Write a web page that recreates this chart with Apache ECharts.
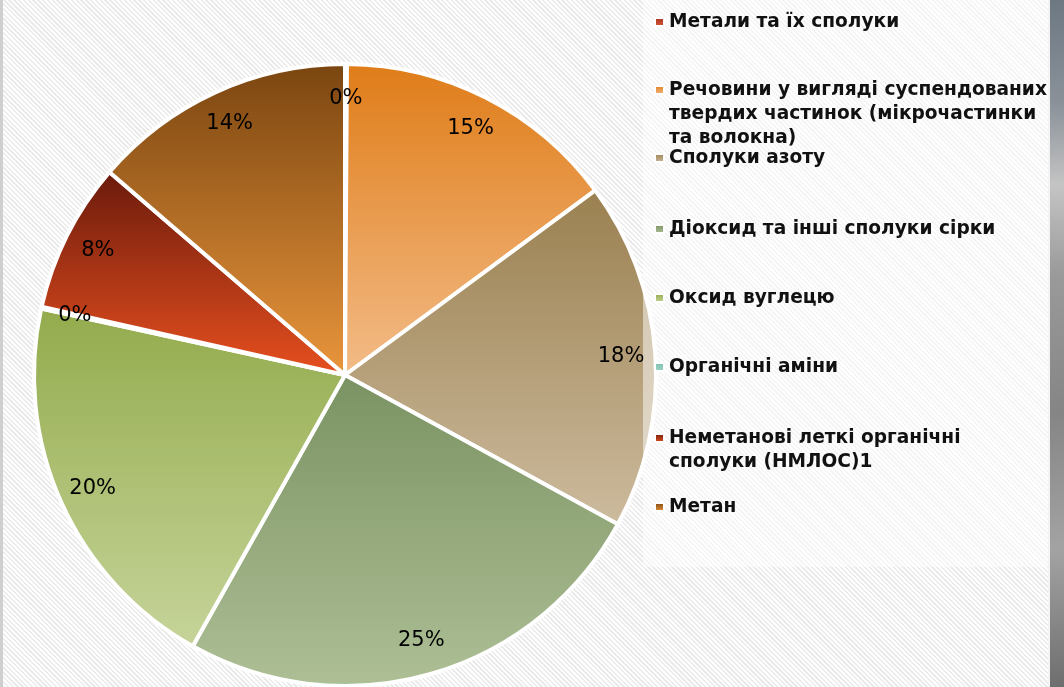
<!DOCTYPE html>
<html><head><meta charset="utf-8">
<script src="https://cdn.jsdelivr.net/npm/echarts@6/dist/echarts.min.js"></script>
<style>
html,body{margin:0;padding:0;width:1064px;height:687px;overflow:hidden;}
body{background: repeating-linear-gradient(45deg, #ffffff 0px, #ffffff 1.7px, #ebebeb 1.7px, #ebebeb 3.4px);}
#chart{width:1064px;height:687px;}
</style></head><body><div id="chart"></div>
<script>
// ---- data ----
const categories = [
  'Метали та їх сполуки',
  'Речовини у вигляді суспендованих твердих частинок (мікрочастинки та волокна)',
  'Сполуки азоту',
  'Діоксид та інші сполуки сірки',
  'Оксид вуглецю',
  'Органічні аміни',
  'Неметанові леткі органічні сполуки (НМЛОС)1',
  'Метан'
];
const values = [0.1, 14.8, 18.1, 25.2, 20.3, 0.1, 7.8, 13.7];
const legendLines = [
  ['Метали та їх сполуки'],
  ['Речовини у вигляді суспендованих', 'твердих частинок (мікрочастинки', 'та волокна)'],
  ['Сполуки азоту'],
  ['Діоксид та інші сполуки сірки'],
  ['Оксид вуглецю'],
  ['Органічні аміни'],
  ['Неметанові леткі органічні', 'сполуки (НМЛОС)1'],
  ['Метан']
];
const colorTop =    ['#A8321E', '#DF7C18', '#9A8050', '#7A9262', '#93AB4C', '#7DBFAE', '#6A1A0C', '#7A4510'];
const colorBottom = ['#D55A3A', '#F3BC88', '#CDBB9E', '#AEBF96', '#C6D49A', '#A0D4C6', '#E8501F', '#EA963C'];

// ---- layout ----
const CX = 345, CY = 375, R = 311;
const LEGEND_Y = [22, 90, 158, 229, 298, 367, 438, 507];
const LINE_H = 24;
const FONT = "'DejaVu Sans', sans-serif";

function grad(i) {
  return new echarts.graphic.LinearGradient(0, 0, 0, 1, [
    { offset: 0, color: colorTop[i] },
    { offset: 1, color: colorBottom[i] }
  ]);
}

const pieData = categories.map((n, i) => ({ name: n, value: values[i], itemStyle: { color: grad(i) } }));
const labelData = categories.map((n, i) => ({ name: n, value: values[i] }));

const legends = categories.map((n, i) => {
  const lines = legendLines[i];
  const pad = new Array(lines.length - 1).fill('');
  const text = pad.concat(lines).join('\n');
  const total = 2 * lines.length - 1;
  return {
    show: true,
    orient: 'vertical',
    left: 654,
    top: LEGEND_Y[i] - total * LINE_H / 2,
    padding: 0,
    itemGap: 0,
    icon: 'rect',
    itemWidth: 9,
    itemHeight: 8,
    selectedMode: false,
    data: [n],
    formatter: () => text,
    textStyle: { fontFamily: FONT, fontSize: 18.6, fontWeight: 'bold', color: '#111', lineHeight: LINE_H },
    z: 6
  };
});

const chart = echarts.init(document.getElementById('chart'), null, { renderer: 'canvas' });
chart.setOption({
  backgroundColor: 'transparent',
  animation: false,
  legend: legends,
  graphic: [
    { type: 'rect', shape: { x: 0, y: 0, width: 3, height: 687 }, style: { fill: '#cfcfcf' }, z: 1 },
    { type: 'rect', shape: { x: 643, y: 0, width: 406, height: 567 }, style: { fill: 'rgba(255,255,255,0.5)' }, z: 3, silent: true },
    { type: 'rect', shape: { x: 1048, y: 0, width: 2, height: 687 }, style: { fill: '#f4f4f4' }, z: 3 },
    { type: 'rect', shape: { x: 1050, y: 0, width: 14, height: 687 },
      style: { fill: new echarts.graphic.LinearGradient(0, 0, 0, 1, [
        { offset: 0, color: '#6d7883' }, { offset: 0.15, color: '#8a9199' },
        { offset: 0.27, color: '#c4c4c4' }, { offset: 0.4, color: '#9a9a9a' },
        { offset: 0.6, color: '#858585' }, { offset: 0.8, color: '#a3a3a3' },
        { offset: 1, color: '#6e6e6e' }]) }, z: 3 }
  ],
  series: [
    {
      type: 'pie',
      center: [CX, CY],
      radius: [0, R],
      startAngle: 90,
      clockwise: true,
      avoidLabelOverlap: false,
      data: pieData,
      itemStyle: { borderColor: '#ffffff', borderWidth: 4 },
      label: { show: false },
      labelLine: { show: false },
      emphasis: { disabled: true },
      z: 2
    },
    {
      type: 'pie',
      center: [CX, CY],
      radius: [R * 0.76, R],
      startAngle: 90,
      clockwise: true,
      silent: true,
      avoidLabelOverlap: false,
      data: labelData,
      itemStyle: { color: 'rgba(0,0,0,0)', borderWidth: 0 },
      label: {
        show: true, position: 'inside',
        formatter: p => Math.round(p.percent) + '%',
        fontFamily: FONT, fontSize: 21, color: '#000'
      },
      labelLine: { show: false },
      emphasis: { disabled: true },
      z: 5
    }
  ]
});
</script>
</body></html>
